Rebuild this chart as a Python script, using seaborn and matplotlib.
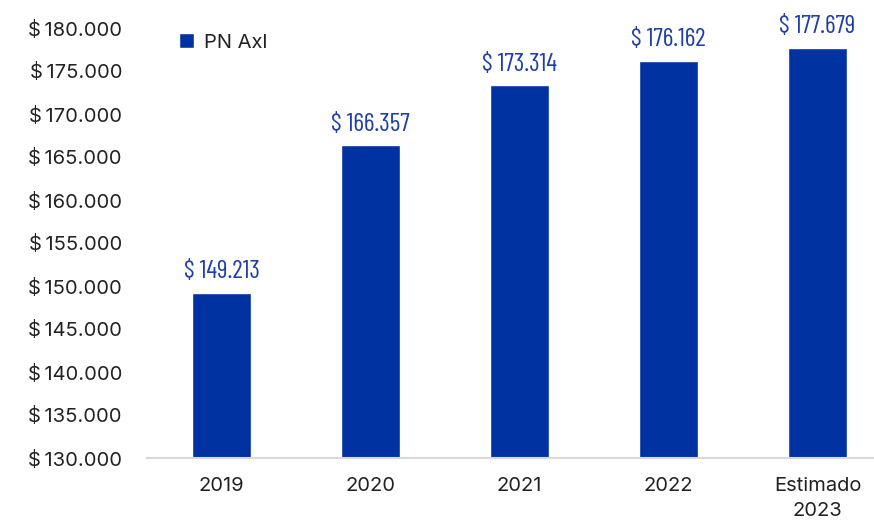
import matplotlib
matplotlib.use('Agg')
import matplotlib.pyplot as plt
import pandas as pd
import seaborn as sns

# data
categories = ['2019', '2020', '2021', '2022', 'Estimado\n2023']
values = [149213, 166357, 173314, 176162, 177679]
series_name = 'PN Axl'
ticks = list(range(130000, 180001, 5000))

bar_color = '#0033A1'
label_color = '#1F3FA6'
text_color = '#222222'

sns.set_theme(style='white')
plt.rcParams['font.family'] = ['Inter', 'DejaVu Sans']


def money(v, sep='\u2009'):
    return f'${sep}{v:,.0f}'.replace(',', '.')


df = pd.DataFrame({'year': categories, 'value': values})

fig = plt.figure(figsize=(8.74, 5.26), dpi=100)
ax = fig.add_axes([147 / 874, 68 / 526, 745 / 874, 430 / 526])

sns.barplot(data=df, x='year', y='value', color=bar_color, width=0.39,
            saturation=1, label=series_name, ax=ax)

ax.set_ylim(130000, 180000)
ax.set_xlim(-0.5, 4.5)
ax.set_yticks(ticks)
ax.set_yticklabels([money(v) for v in ticks], fontsize=14.5, color=text_color)
for t in ax.get_xticklabels():
    t.set_linespacing(1.5)
ax.tick_params(axis='x', labelsize=14.5, labelcolor=text_color, length=0, pad=14)
ax.tick_params(axis='y', length=0, pad=18)
ax.set_xlabel('')
ax.set_ylabel('')

for s in ['top', 'right', 'left']:
    ax.spines[s].set_visible(False)
ax.spines['bottom'].set_color('#D9D9D9')
ax.spines['bottom'].set_linewidth(1.5)

ax.bar_label(ax.containers[0], labels=[money(v) for v in values], padding=7,
             fontsize=18.5, color=label_color, family=['Barlow Condensed', 'DejaVu Sans'])

ax.legend(loc='upper left', bbox_to_anchor=(0.019, 1.03), frameon=False,
          handlelength=0.75, handleheight=0.75, handletextpad=0.5,
          prop={'size': 14.5}, labelcolor=text_color)

fig.savefig('out.png', dpi=100)
